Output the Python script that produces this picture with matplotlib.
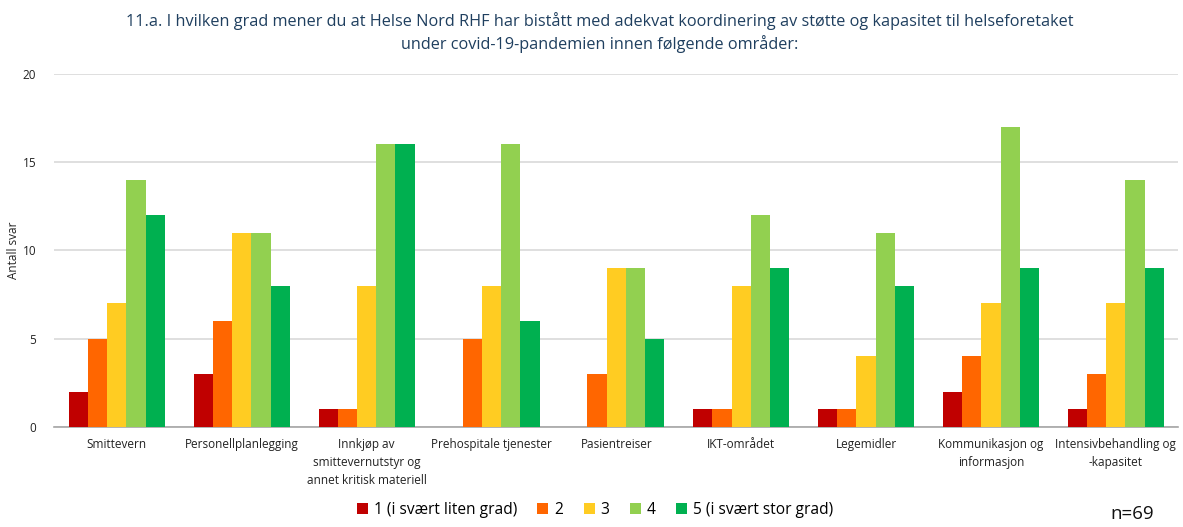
import matplotlib
matplotlib.use("Agg")
import matplotlib.pyplot as plt
import numpy as np

plt.rcParams['font.family'] = ['Open Sans', 'DejaVu Sans']

categories = ["Smittevern", "Personellplanlegging",
              "Innkjøp av\nsmittevernutstyr og\nannet kritisk materiell",
              "Prehospitale tjenester", "Pasientreiser", "IKT-området",
              "Legemidler", "Kommunikasjon og\ninformasjon",
              "Intensivbehandling og\n-kapasitet"]
series_names = ["1 (i svært liten grad)", "2", "3", "4", "5 (i svært stor grad)"]
grad1 = [2, 3, 1, 0, 0, 1, 1, 2, 1]
grad2 = [5, 6, 1, 5, 3, 1, 1, 4, 3]
grad3 = [7, 11, 8, 8, 9, 8, 4, 7, 7]
grad4 = [14, 11, 16, 16, 9, 12, 11, 17, 14]
grad5 = [12, 8, 16, 6, 5, 9, 8, 9, 9]
colors = ["#C00000", "#FF6600", "#FFCC22", "#92D050", "#00B050"]

fig = plt.figure(figsize=(11.83, 5.27), dpi=100)
ax = fig.add_axes([0.046, 0.19, 0.95, 0.67])

x = np.arange(len(categories))
w = 0.154
for i, vals in enumerate([grad1, grad2, grad3, grad4, grad5]):
    ax.bar(x + (i - 2) * w, vals, w, color=colors[i], label=series_names[i], zorder=3)

ax.set_xlim(-0.5, len(categories) - 0.5)
ax.set_ylim(0, 20)
ax.set_yticks([0, 5, 10, 15, 20])
ax.yaxis.grid(True, color="#D9D9D9", linewidth=1.2, zorder=0)
ax.set_xticks(x)
ax.set_xticklabels(categories, fontsize=8.5, color="#222222", linespacing=1.5)
ax.tick_params(axis="y", labelsize=8.5, colors="#222222", length=0, pad=13)
ax.tick_params(axis="x", length=0, pad=8)
for s in ["top", "right", "left"]:
    ax.spines[s].set_visible(False)
ax.spines["bottom"].set_color("#A6A6A6")
ax.spines["bottom"].set_linewidth(1.2)
ax.set_ylabel("Antall svar", fontsize=8.5, color="#222222")
ax.yaxis.set_label_coords(-0.031, 0.5)

fig.suptitle("11.a. I hvilken grad mener du at Helse Nord RHF har bistått med adekvat koordinering av støtte og kapasitet til helseforetaket\n"
             "under covid-19-pandemien innen følgende områder:",
             x=0.507, y=0.978, fontsize=11.7, color="#1F3F5F", linespacing=1.4)

fig.legend(loc="lower center", bbox_to_anchor=(0.503, -0.01), ncol=5, frameon=False,
           fontsize=11.2, handlelength=0.7, handleheight=0.7, handletextpad=0.4,
           columnspacing=1.3)
fig.text(0.957, 0.008, "n=69", fontsize=13.5, ha="center", va="bottom", color="#111111")

fig.savefig("out.png", dpi=100)
